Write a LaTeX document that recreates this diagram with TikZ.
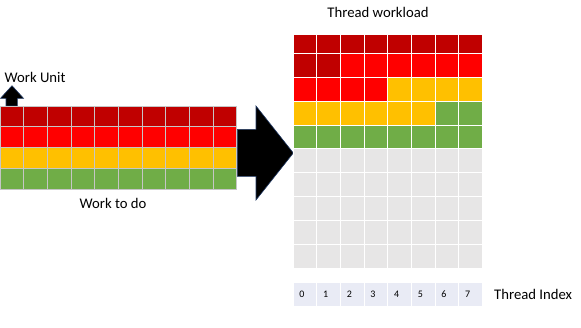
\documentclass[tikz,border=0pt]{standalone}
\usepackage{fontspec}
\setmainfont{Carlito}
\usepackage{xcolor}
\definecolor{darkred}{HTML}{C00000}
\definecolor{brightred}{HTML}{FF0000}
\definecolor{amber}{HTML}{FFC000}
\definecolor{leafgreen}{HTML}{70AD47}
\definecolor{idlegray}{HTML}{E7E6E6}
\definecolor{indexblue}{HTML}{E9EBF5}
\definecolor{arrowline}{HTML}{203864}
\usetikzlibrary{positioning}

\begin{document}
\begin{tikzpicture}[x=1pt, y=-1pt,
  workcell/.style={draw=gray!45, line width=0.8pt},
  threadcell/.style={draw=white, line width=1pt},
  indexcell/.style={fill=indexblue, draw=white, line width=1pt},
  textlabel/.style={font=\fontsize{14.7}{17}\selectfont, inner sep=0pt},
  indexnum/.style={font=\fontsize{10}{11}\selectfont, inner sep=0pt},
  blockarrow/.style={fill=black, draw=arrowline, line width=0.6pt}
]
\useasboundingbox (0,0) rectangle (581,327);

% Work unit arrow
\draw[blockarrow] (6,106) -- (6,98.3) -- (0.5,98.3) -- (12,85.7) -- (23.5,98.3) -- (17.3,98.3) -- (17.3,106) -- cycle;
\node[textlabel, anchor=west] (unit) at (4.5,77.5) {Work Unit};

% Work to do
\foreach \col [count=\r from 0] in {darkred,brightred,amber,leafgreen}
  \foreach \c in {0,...,9}
    \draw[workcell, fill=\col] ({23.67*\c},{106+20.8*\r}) rectangle ++(23.67,20.8);
\node[textlabel] (todo) at (113,203) {Work to do};

% Big arrow
\draw[blockarrow] (237.3,129.3) -- (256,129.3) -- (256,106) -- (293.3,153) -- (256,200) -- (256,176.3) -- (237.3,176.3) -- cycle;

% Thread workload
\node[textlabel] (workload) at (378,12) {Thread workload};
\foreach \rowcols [count=\r from 0] in {
    {darkred,darkred,darkred,darkred,darkred,darkred,darkred,darkred},
    {darkred,darkred,brightred,brightred,brightred,brightred,brightred,brightred},
    {brightred,brightred,brightred,brightred,amber,amber,amber,amber},
    {amber,amber,amber,amber,amber,amber,leafgreen,leafgreen},
    {leafgreen,leafgreen,leafgreen,leafgreen,leafgreen,leafgreen,leafgreen,leafgreen}}
  \foreach \col [count=\c from 0] in \rowcols {
    \pgfmathsetmacro{\ytop}{max(34.3,29.4+23.9*\r)}
    \draw[threadcell, fill=\col] ({293.3+23.67*\c},\ytop) rectangle ({293.3+23.67*(\c+1)},{53.3+23.9*\r});
  }

% Idle slots
\foreach \r in {5,...,9}
  \foreach \c in {0,...,7}
    \draw[threadcell, fill=idlegray] ({293.3+23.67*\c},{29.4+23.9*\r}) rectangle ++(23.67,23.9);

% Thread index
\foreach \c in {0,...,7} {
  \draw[indexcell] ({293.3+23.67*\c},282.7) rectangle ++(23.67,23.3);
  \node[indexnum] (idx\c) at ({302+23.67*\c},294.5) {\c};
}
\node[textlabel, anchor=west] (index) at (494,294.5) {Thread Index};

\end{tikzpicture}
\end{document}
